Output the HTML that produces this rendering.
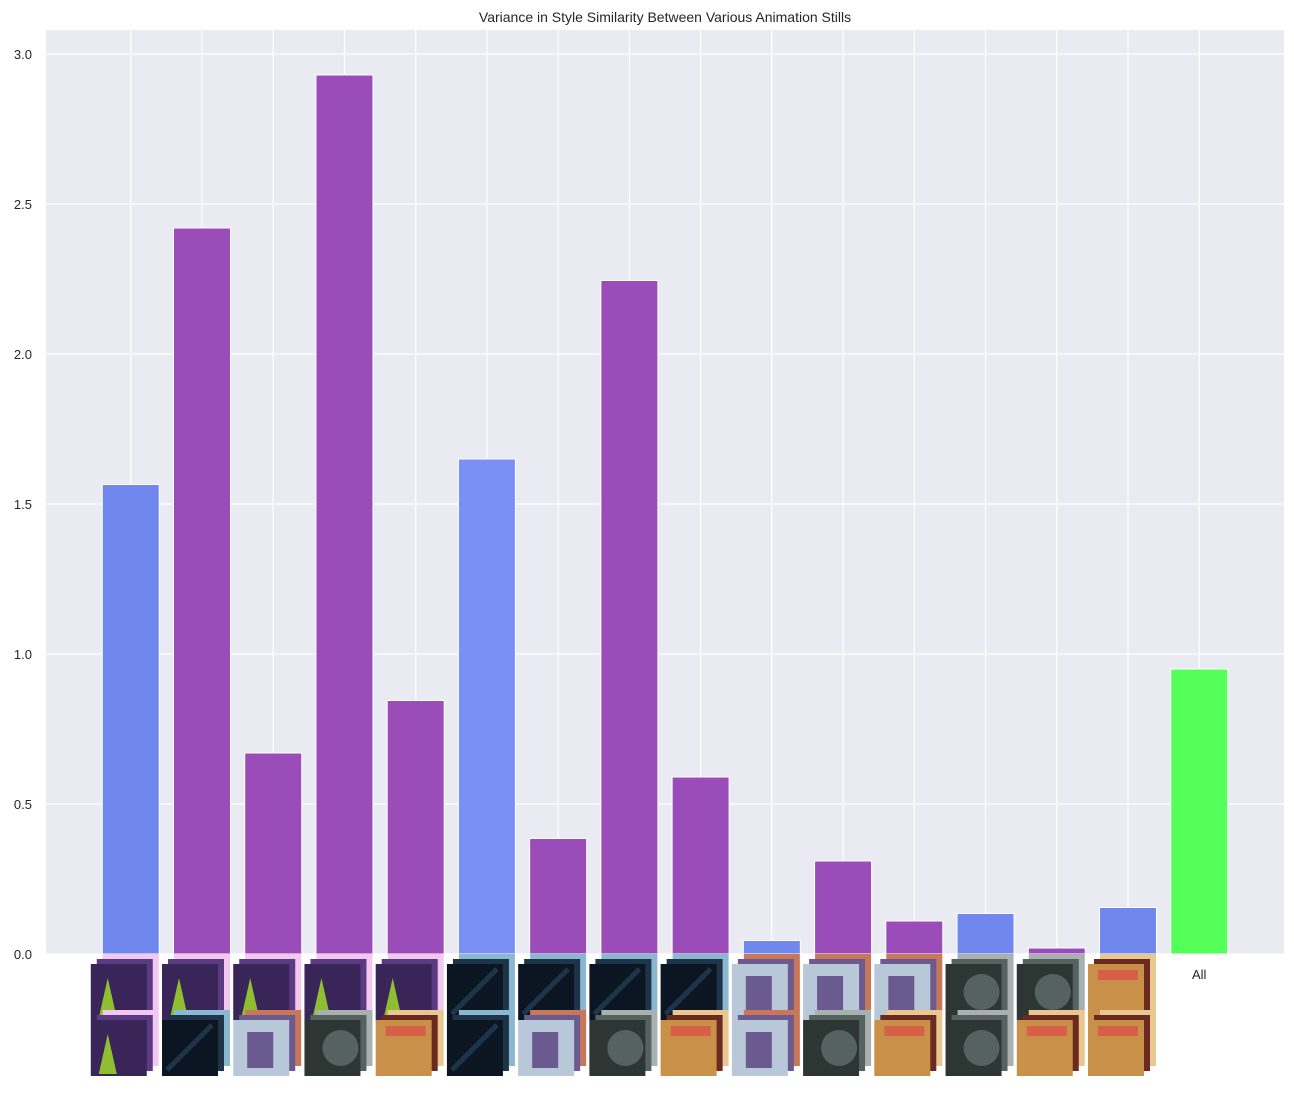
<!DOCTYPE html>
<html><head><meta charset="utf-8"><style>
body{margin:0;background:#fff;font-family:"Liberation Sans","DejaVu Sans",sans-serif}
</style></head><body>
<svg id="c" width="1294" height="1092" xmlns="http://www.w3.org/2000/svg"></svg>
<script>
const categories=["A-A","A-B","A-C","A-D","A-E","B-B","B-C","B-D","B-E","C-C","C-D","C-E","D-D","D-E","E-E","All"];
const values=[1.565,2.42,0.67,2.93,0.845,1.65,0.385,2.245,0.59,0.045,0.31,0.11,0.135,0.02,0.155,0.95];
const barColors=["#7088ee","#9a4cb8","#9a4cb8","#9a4cb8","#9a4cb8","#7a90f5","#9a4cb8","#9a4cb8","#9a4cb8","#7088ee","#9a4cb8","#9a4cb8","#7088ee","#9a4cb8","#7088ee","#55ff5a"];
const topImgs=["A","A","A","A","A","B","B","B","B","C","C","C","D","D","E"];
const botImgs=["A","B","C","D","E","B","C","D","E","C","D","E","D","E","E"];
const yTicks=[0,0.5,1.0,1.5,2.0,2.5,3.0];
const yTickLabels=["0.0","0.5","1.0","1.5","2.0","2.5","3.0"];
const NS="http://www.w3.org/2000/svg";
const svg=document.getElementById('c');
const L=46,R=1284,T=30,B=954;
const xmin=-1.19,xmax=16.19,ymax=3.0;
const X=v=>L+(v-xmin)/(xmax-xmin)*(R-L);
const Y=v=>B-v/ymax*(B-54);
function el(t,a,p){const e=document.createElementNS(NS,t);for(const k in a)e.setAttribute(k,a[k]);(p||svg).appendChild(e);return e;}
const bg=el('rect',{x:L,y:T,width:R-L,height:B-T,fill:'#eaeaf2'});


const grid=el('g',{});


yTicks.forEach((v,i)=>{
 el('line',{x1:L,x2:R,y1:Y(v),y2:Y(v),stroke:'#fff','stroke-width':1.2},grid);
 const t=el('text',{x:L-14,y:Y(v)+5,'text-anchor':'end','font-size':13,fill:'#262626'});
 t.textContent=yTickLabels[i];
 
 
});
categories.forEach((c,i)=>el('line',{x1:X(i),x2:X(i),y1:T,y2:B,stroke:'#fff','stroke-width':1.2},grid));
categories.forEach((c,i)=>{
 const w=X(0.4)-X(-0.4);
 const r=el('rect',{x:X(i)-w/2,y:Y(values[i]),width:w,height:B-Y(values[i]),fill:barColors[i],stroke:'#fff','stroke-width':1});
 
 
});
const pal={A:["#3a2558","#5a3a80","#8fbf30","#f2c8f0"],B:["#0c1622","#1e3448","#556070","#8ab8d0"],C:["#b8c8d8","#6a5a90","#e8e0d0","#c87858"],D:["#2e3634","#556260","#5aa0b0","#a8b0b0"],E:["#c89048","#6a2a20","#d86048","#e8c890"]};
function thumb(cx,y,k,name){
 const g=el('g',{});
 
 
 const p=pal[k],x=cx-40;
 el('rect',{x:x+12,y:y-10,width:56,height:56,fill:p[3]},g);
 el('rect',{x:x+6,y:y-5,width:56,height:56,fill:p[1]},g);
 el('rect',{x:x,y:y,width:56,height:56,fill:p[0]},g);
 if(k==='A')el('polygon',{points:`${x+8},${y+54} ${x+17},${y+14} ${x+26},${y+54}`,fill:p[2]},g);
 else if(k==='C')el('rect',{x:x+14,y:y+12,width:26,height:36,fill:p[1]},g);
 else if(k==='E')el('rect',{x:x+10,y:y+6,width:40,height:10,fill:p[2]},g);
 else if(k==='D')el('circle',{cx:x+36,cy:y+28,r:18,fill:p[1]},g);
 else el('line',{x1:x+5,y1:y+50,x2:x+50,y2:y+5,stroke:p[1],'stroke-width':5},g);
}
topImgs.forEach((k,i)=>thumb(X(i),964,k,'thumbnail-top-'+i));
botImgs.forEach((k,i)=>thumb(X(i),1020,k,'thumbnail-bottom-'+i));
const all=el('text',{x:X(15),y:979,'text-anchor':'middle','font-size':13,fill:'#262626'});
all.textContent='All';


const title=el('text',{x:665,y:22,'text-anchor':'middle','font-size':14,fill:'#262626'});
title.textContent='Variance in Style Similarity Between Various Animation Stills';


</script>
</body></html>
